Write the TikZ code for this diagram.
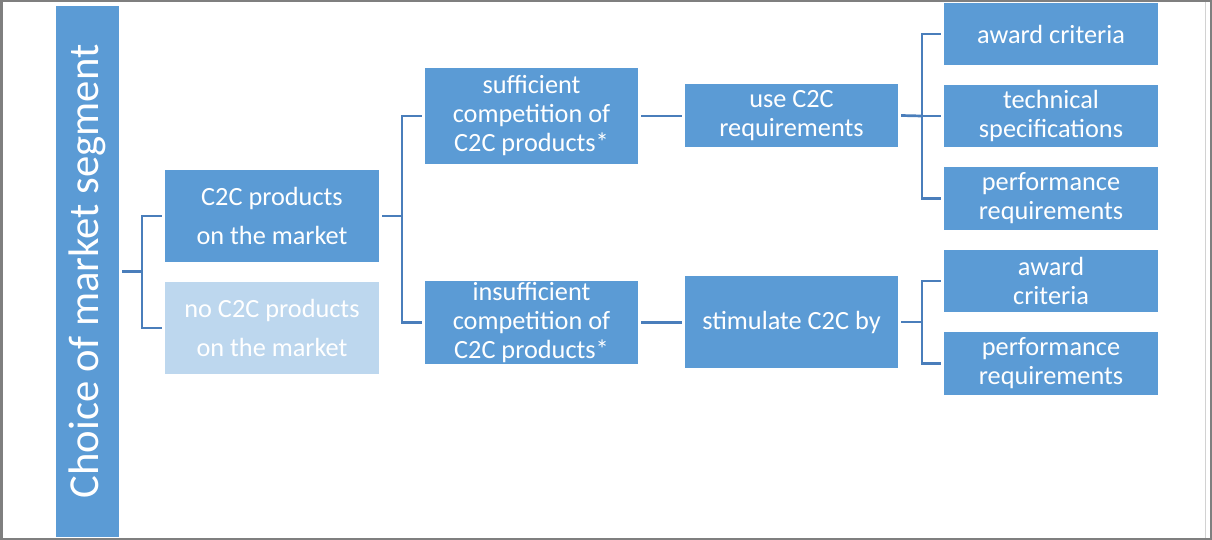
\documentclass[tikz,border=0pt]{standalone}
\usepackage{fontspec}
\setmainfont{Carlito}
\usetikzlibrary{calc}

\definecolor{boxblue}{HTML}{5B9BD5}
\definecolor{paleblue}{HTML}{BDD7EE}
\definecolor{linkblue}{HTML}{4A7EBB}
\definecolor{framegray}{HTML}{7F7F7F}

\begin{document}
\begin{tikzpicture}[x=1pt,y=-1pt,
  box/.style={fill=boxblue, text=white, align=center, inner sep=0pt,
    font=\fontsize{26.3}{29}\selectfont},
  widebox/.style={box, font=\fontsize{26.3}{39}\selectfont},
  link/.style={draw=linkblue, line width=2.7pt},
  gap/.style={shorten <=3pt, shorten >=3pt}
]
\useasboundingbox (0,0) rectangle (1212,540);

% frame
\fill[framegray] (0,0) rectangle (1212,540);
\fill[white] (3,2) rectangle (1210,537.5);
\draw[gray!35, line width=0.8pt] (1205,2) -- (1205,537.5);

% title bar
\node[fill=boxblue, text=white, rotate=90, minimum width=531pt, minimum height=63pt,
  inner sep=0pt, font=\fontsize{42.7}{50}\selectfont] (bar) at (87.5,271.5)
  {Choice of market segment};

% level 1
\node[widebox, minimum width=214pt, minimum height=92pt] (c2c) at (272,216)
  {C2C products\\on the market};
\node[widebox, fill=paleblue, minimum width=214pt, minimum height=92pt] (noc2c) at (272,328)
  {no C2C products\\on the market};

% level 2
\node[box, minimum width=213pt, minimum height=96pt] (suff) at (531.5,116)
  {sufficient\\competition of\\C2C products*};
\node[box, minimum width=213pt, minimum height=83pt] (insuff) at (531.5,322.5)
  {insufficient\\competition of\\C2C products*};

% level 3
\node[box, minimum width=213pt, minimum height=63pt] (use) at (791.5,115.5)
  {use C2C\\requirements};
\node[box, minimum width=213pt, minimum height=92pt] (stim) at (791.5,322)
  {stimulate C2C by};

% level 4
\node[box, minimum width=214pt, minimum height=62pt] (aw1) at (1051,34) {award criteria};
\node[box, minimum width=214pt, minimum height=62pt] (tech) at (1051,116) {technical\\specifications};
\node[box, minimum width=214pt, minimum height=63pt] (perf1) at (1051,198.5) {performance\\requirements};
\node[box, minimum width=214pt, minimum height=62pt] (aw2) at (1051,281) {award\\criteria};
\node[box, minimum width=214pt, minimum height=63pt] (perf2) at (1051,363.5) {performance\\requirements};

% junction points
\coordinate (j1) at (142,271.5);
\coordinate (j2) at (402,216);
\coordinate (j3) at (922,116);
\coordinate (j4) at (922,322);

% connectors
\draw[link] ($(bar.south)+(3,0)$) -- (j1);
\draw[link] ($(c2c.west)+(-3,0)$) -| (j1) |- ($(noc2c.west)+(-3,0)$);

\draw[link] ($(c2c.east)+(3,0)$) -- (j2);
\draw[link] ($(suff.west)+(-3,0)$) -| (j2) |- ($(insuff.west)+(-3,0)$);

\draw[link, gap] (suff.east) -- (suff.east -| use.west);
\draw[link, gap] (insuff.east) -- (insuff.east -| stim.west);

\draw[link] ($(use.east)+(3,0)$) -- (j3);
\draw[link] ($(aw1.west)+(-3,0)$) -| (j3) |- ($(perf1.west)+(-3,0)$);
\draw[link] (j3) -- ($(tech.west)+(-3,0)$);

\draw[link] ($(stim.east)+(3,0)$) -- (j4);
\draw[link] ($(aw2.west)+(-3,0)$) -| (j4) |- ($(perf2.west)+(-3,0)$);
\end{tikzpicture}
\end{document}
